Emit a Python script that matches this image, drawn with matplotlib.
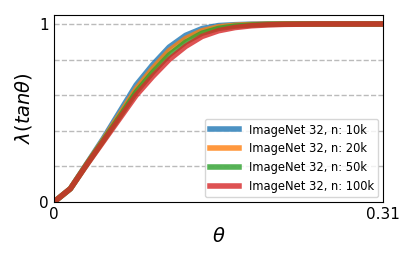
import numpy as np
import matplotlib
matplotlib.use('Agg')
import matplotlib.pyplot as plt

# theta grid (21 points from 0 to 0.31)
theta = np.linspace(0, 0.31, 21)

labels = ['ImageNet 32, n: 10k', 'ImageNet 32, n: 20k',
          'ImageNet 32, n: 50k', 'ImageNet 32, n: 100k']

lam_10k = [0, 0.075, 0.216, 0.357, 0.508, 0.658, 0.771, 0.870, 0.936, 0.974,
           0.991, 0.996, 0.999, 1.0, 1.0, 1.0, 1.0, 1.0, 1.0, 1.0, 1.0]
lam_20k = [0, 0.075, 0.214, 0.350, 0.492, 0.636, 0.750, 0.850, 0.918, 0.962,
           0.984, 0.993, 0.997, 0.999, 1.0, 1.0, 1.0, 1.0, 1.0, 1.0, 1.0]
lam_50k = [0, 0.075, 0.212, 0.345, 0.480, 0.618, 0.728, 0.826, 0.898, 0.948,
           0.975, 0.988, 0.994, 0.998, 0.999, 1.0, 1.0, 1.0, 1.0, 1.0, 1.0]
lam_100k = [0, 0.075, 0.210, 0.340, 0.470, 0.600, 0.705, 0.800, 0.874, 0.930,
            0.962, 0.980, 0.990, 0.995, 0.998, 0.999, 1.0, 1.0, 1.0, 1.0, 1.0]

series = [lam_10k, lam_20k, lam_50k, lam_100k]
colors = ['tab:blue', 'tab:orange', 'tab:green', 'tab:red']

fig, ax = plt.subplots(figsize=(4.15, 2.6), dpi=100)
for y, lab, c in zip(series, labels, colors):
    ax.plot(theta, y, color=c, lw=4, alpha=0.8, label=lab)

ax.set_xlim(0, 0.31)
ax.set_ylim(0, 1.05)
ax.set_xticks([0, 0.31])
ax.set_xticklabels(['0', '0.31'])
ax.set_yticks([0, 1])
ax.set_yticklabels(['0', '1'])
ax.tick_params(length=0, labelsize=11)
for yv in [0.2, 0.4, 0.6, 0.8, 1.0]:
    ax.axhline(yv, color='#bbbbbb', ls='--', lw=1, zorder=0)

ax.set_xlabel(r'$\theta$', fontsize=14)
ax.set_ylabel(r'$\lambda(tan\theta)$', fontsize=14)
ax.legend(loc='lower right', fontsize=8.3, handlelength=2.6, labelspacing=0.5,
          borderaxespad=0.4)

fig.subplots_adjust(left=0.13, right=0.923, top=0.942, bottom=0.223)
plt.savefig('out.png')
